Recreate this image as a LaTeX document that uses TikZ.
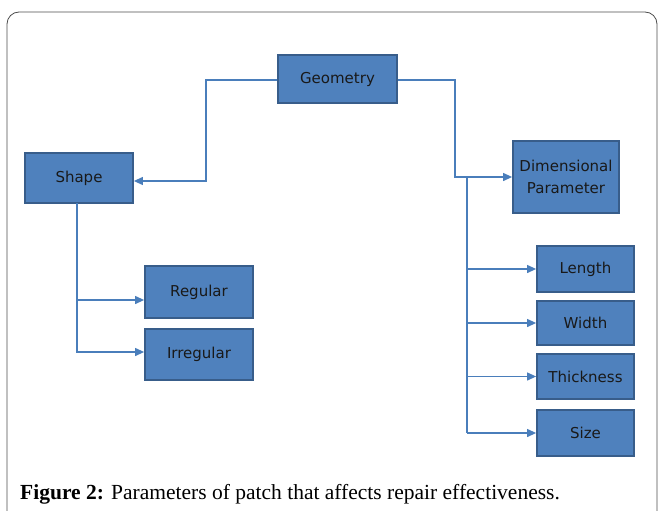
\documentclass[tikz,border=0pt]{standalone}
\usepackage{fontspec}
\setmainfont{Liberation Serif}
\newfontfamily\boxfont{DejaVu Sans}
\usetikzlibrary{arrows.meta}
\definecolor{boxfill}{HTML}{4F81BD}
\definecolor{boxline}{HTML}{385D8A}
\definecolor{conn}{HTML}{4A7EBB}
\tikzset{
  pbox/.style={draw=boxline, line width=1.8pt, fill=boxfill, inner sep=0pt, align=center,
    font=\boxfont\fontsize{15}{22}\selectfont, text=black!90},
  conn/.style={draw=conn, line width=1.2pt},
  arr/.style={conn, -{Triangle[length=9pt,width=8pt]}},
}
\begin{document}
\begin{tikzpicture}[x=1pt,y=-1pt]
\useasboundingbox (0,0) rectangle (659,511);
\draw[black!70, line width=0.8pt, rounded corners=12pt] (7,12) -- (7,530) -- (657,530) -- (657,12) -- cycle;
\node[pbox, minimum width=119pt, minimum height=48pt] (geo) at (337.5,79) {Geometry};
\node[pbox, minimum width=108pt, minimum height=50pt] (shape) at (79,178) {Shape};
\node[pbox, minimum width=106pt, minimum height=72pt] (dim) at (566,177) {Dimensional\\Parameter};
\node[pbox, minimum width=108pt, minimum height=52pt] (reg) at (199,292) {Regular};
\node[pbox, minimum width=108pt, minimum height=51pt] (irr) at (199,354.5) {Irregular};
\node[pbox, minimum width=97pt, minimum height=46pt] (len) at (585.5,269) {Length};
\node[pbox, minimum width=97pt, minimum height=44pt] (wid) at (585.5,323) {Width};
\node[pbox, minimum width=97pt, minimum height=45pt] (thk) at (585.5,376.5) {Thickness};
\node[pbox, minimum width=97pt, minimum height=46pt] (siz) at (585.5,433) {Size};
\coordinate (gl) at (206,80);
\coordinate (gr) at (455,80);
\coordinate (trunk) at (467,177);
\coordinate (strunk) at (77,203);
\draw[arr] (geo.west |- gl) -- (gl) |- (shape.east |- 0,181);
\draw[arr] (geo.east |- gr) -- (gr) |- (dim.west);
\draw[conn] (trunk) -- (trunk |- siz.west);
\draw[arr] (trunk |- len.west) -- (len.west);
\draw[arr] (trunk |- wid.west) -- (wid.west);
\draw[arr] (trunk |- thk.west) -- (thk.west);
\draw[arr] (trunk |- siz.west) -- (siz.west);
\draw[arr] (strunk) |- (reg.west |- 0,300);
\draw[arr] (strunk) |- (irr.west |- 0,352);
\node[anchor=base west, font=\fontsize{21.5}{26}\selectfont, inner sep=0pt] (cap) at (20,499) {\textbf{Figure 2:} Parameters of patch that affects repair effectiveness.};
\end{tikzpicture}
\end{document}
